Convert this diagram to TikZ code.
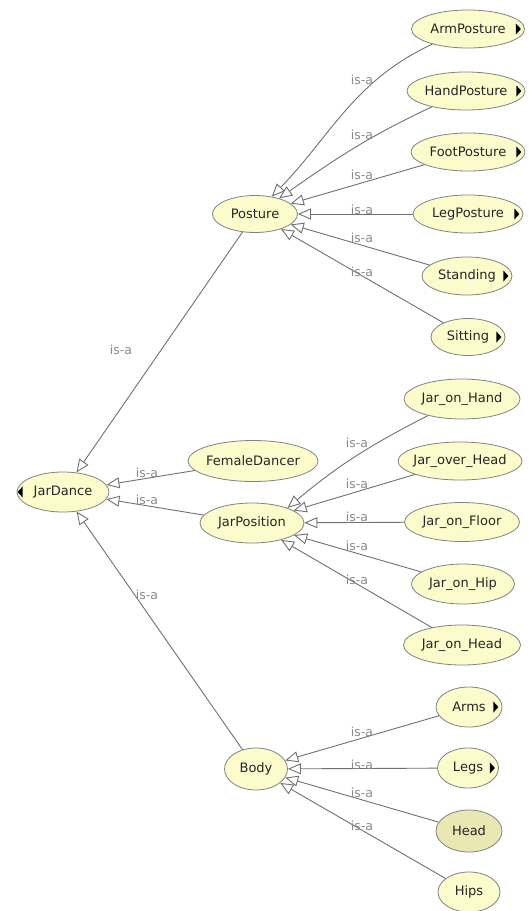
\documentclass[tikz,border=0pt]{standalone}
\usepackage{fontspec}
\setmainfont{DejaVu Sans}
\usetikzlibrary{shapes.geometric,arrows.meta}
\definecolor{nodefill}{RGB}{252,251,204}
\definecolor{headfill}{RGB}{233,231,178}
\definecolor{edgecol}{RGB}{112,112,112}
\definecolor{bordercol}{RGB}{130,130,130}
\definecolor{lblcol}{RGB}{138,138,138}
\newcommand\rightmarker[1]{\fill[black] ([xshift=-9pt,yshift=-5.5pt]#1.east) -- ++(0,11) -- ++(5,-5.5) -- cycle;}
\newcommand\leftmarker[1]{\fill[black] ([xshift=6pt,yshift=-5.5pt]#1.west) -- ++(0,11) -- ++(-5,-5.5) -- cycle;}
\begin{document}
\begin{tikzpicture}[x=1pt,y=1pt,
  cls/.style={ellipse, draw=bordercol, fill=nodefill, line width=0.8pt,
    inner xsep=-20pt, inner ysep=-5pt, font=\fontsize{13}{15}\selectfont, text=black!85},
  sz/.style 2 args={minimum width=#1pt, minimum height=#2pt},
  isa/.style={draw=edgecol, line width=0.9pt, -{Triangle[length=13pt,width=11pt,fill=white,line width=0.9pt]}},
  lbl/.style={font=\fontsize{12.5}{14}\selectfont, text=lblcol, inner sep=0pt}
]
\useasboundingbox (0,0) rectangle (529,-911);

% nodes
\node[cls, sz={113}{38}] (ap) at (468,-29) {ArmPosture};
\node[cls, sz={118}{38}] (hp) at (466,-91) {HandPosture};
\node[cls, sz={114}{38}] (fp) at (468,-152) {FootPosture};
\node[cls, sz={110}{38}] (lp) at (468,-214) {LegPosture};
\node[cls, sz={90}{38}]  (st) at (467,-276) {Standing};
\node[cls, sz={74}{37}]  (si) at (468,-337) {Sitting};
\node[cls, sz={85}{37}]  (po) at (255,-214) {Posture};

\node[cls, sz={116}{40}] (jh) at (462,-399) {Jar\_on\_Hand};
\node[cls, sz={124}{38}] (jo) at (460,-461) {Jar\_over\_Head};
\node[cls, sz={115}{39}] (jf) at (462,-522) {Jar\_on\_Floor};
\node[cls, sz={103}{40}] (jhp) at (463,-584) {Jar\_on\_Hip};
\node[cls, sz={117}{40}] (jhd) at (462,-645) {Jar\_on\_Head};
\node[cls, sz={130}{41}] (fd) at (253,-461) {FemaleDancer};
\node[cls, sz={92}{40}]  (jd) at (63,-492) {JarDance};
\node[cls, sz={104}{40}] (jp) at (252,-523) {JarPosition};

\node[cls, sz={63}{42}] (bo) at (256,-769) {Body};
\node[cls, sz={66}{40}] (ar) at (469,-707) {Arms};
\node[cls, sz={61}{40}] (le) at (468,-768) {Legs};
\node[cls, sz={66}{42}, fill=headfill] (he) at (469,-831) {Head};
\node[cls, sz={62}{40}] (hi) at (469,-892) {Hips};

% expand markers
\rightmarker{ap}
\rightmarker{hp}
\rightmarker{fp}
\rightmarker{lp}
\rightmarker{st}
\rightmarker{si}
\rightmarker{ar}
\rightmarker{le}
\leftmarker{jd}

% edges to Posture
\draw[isa] (ap.203) to[out=205,in=46] (po.46);
\draw[isa] (hp.205) to[out=205,in=35] (po.33);
\draw[isa] (fp) -- (po);
\draw[isa] (lp) -- (po);
\draw[isa] (st) -- (po);
\draw[isa] (si) -- (po);

% edges to JarPosition
\draw[isa] (jh.206) to[out=207,in=40] (jp.23);
\draw[isa] (jo) -- (jp);
\draw[isa] (jf) -- (jp);
\draw[isa] (jhp) -- (jp);
\draw[isa] (jhd) -- (jp);

% edges to Body
\draw[isa] (ar) -- (bo);
\draw[isa] (le) -- (bo);
\draw[isa] (he) -- (bo);
\draw[isa] (hi) -- (bo);

% edges to JarDance
\draw[isa] (po) -- (jd);
\draw[isa] (fd) -- (jd);
\draw[isa] (jp) -- (jd);
\draw[isa] (bo) -- (jd);

% labels
\node[lbl] (l1) at (362,-80) {is-a};
\node[lbl] (l2) at (362,-135) {is-a};
\node[lbl] (l3) at (362,-175) {is-a};
\node[lbl] (l4) at (362,-210) {is-a};
\node[lbl] (l5) at (362,-238) {is-a};
\node[lbl] (l6) at (362,-272) {is-a};

\node[lbl] (l7) at (357,-443) {is-a};
\node[lbl] (l8) at (357,-484) {is-a};
\node[lbl] (l9) at (357,-517) {is-a};
\node[lbl] (l10) at (357,-546) {is-a};
\node[lbl] (l11) at (357,-580) {is-a};

\node[lbl] (l12) at (362,-732) {is-a};
\node[lbl] (l13) at (362,-765) {is-a};
\node[lbl] (l14) at (362,-793) {is-a};
\node[lbl] (l15) at (362,-826) {is-a};

\node[lbl] (l16) at (121,-350) {is-a};
\node[lbl] (l17) at (147,-473) {is-a};
\node[lbl] (l18) at (147,-500) {is-a};
\node[lbl] (l19) at (147,-595) {is-a};
\end{tikzpicture}
\end{document}
